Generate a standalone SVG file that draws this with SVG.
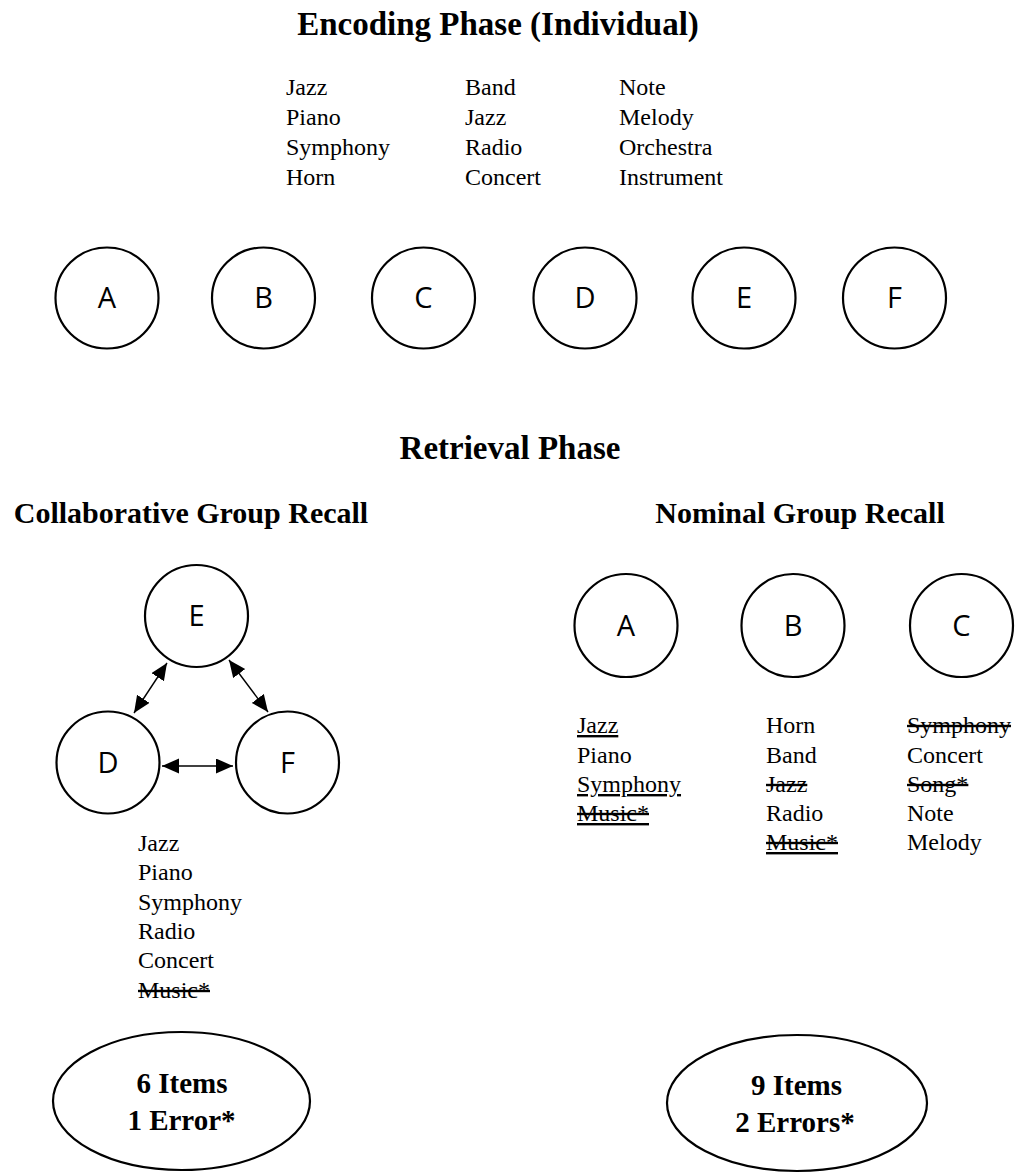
<svg xmlns="http://www.w3.org/2000/svg" width="1017" height="1173" viewBox="0 0 1017 1173">
<style>
.bg{fill:#ffffff}
.node{fill:#ffffff;stroke:#000000;stroke-width:2.2}
.lbl{font-family:"Open Sans","DejaVu Sans",sans-serif;font-size:29px;fill:#000;text-anchor:middle}
.h1{font-family:"Liberation Serif","Times New Roman",serif;font-weight:bold;font-size:33px;fill:#000;text-anchor:middle}
.h2{font-family:"Liberation Serif","Times New Roman",serif;font-weight:bold;font-size:30px;fill:#000;text-anchor:middle}
.w{font-family:"Liberation Serif","Times New Roman",serif;font-size:24px;fill:#000}
.tot{font-family:"Liberation Serif","Times New Roman",serif;font-weight:bold;font-size:29px;fill:#000;text-anchor:middle}
.u{text-decoration:underline}
.s{text-decoration:line-through}
.us{text-decoration:underline line-through}
.conn{stroke:#000;stroke-width:1.4;fill:none;marker-start:url(#ah);marker-end:url(#ah)}
</style>
<defs>
<marker id="ah" markerUnits="userSpaceOnUse" markerWidth="18" markerHeight="16" refX="17" refY="7.5" orient="auto-start-reverse">
<path d="M0,0 L17,7.5 L0,15 z" fill="#000"/>
</marker>
</defs>
<rect class="bg" x="0" y="0" width="1017" height="1173"/>

<g id="headings">
<text class="h1" x="498" y="35">Encoding Phase (Individual)</text>
<text class="h1" x="510" y="459">Retrieval Phase</text>
<text class="h2" x="191" y="523">Collaborative Group Recall</text>
<text class="h2" x="800" y="523">Nominal Group Recall</text>
</g>

<g id="encoding-lists">
<text class="w" x="286" y="95">Jazz</text>
<text class="w" x="286" y="125">Piano</text>
<text class="w" x="286" y="155">Symphony</text>
<text class="w" x="286" y="185">Horn</text>
<text class="w" x="465" y="95">Band</text>
<text class="w" x="465" y="125">Jazz</text>
<text class="w" x="465" y="155">Radio</text>
<text class="w" x="465" y="185">Concert</text>
<text class="w" x="619" y="95">Note</text>
<text class="w" x="619" y="125">Melody</text>
<text class="w" x="619" y="155">Orchestra</text>
<text class="w" x="619" y="185">Instrument</text>
</g>

<g id="enc-A"><ellipse class="node" cx="107" cy="298" rx="51.5" ry="50.5"/><text class="lbl" x="107" y="308">A</text></g>
<g id="enc-B"><ellipse class="node" cx="263.5" cy="298" rx="51.5" ry="50.5"/><text class="lbl" x="263.5" y="308">B</text></g>
<g id="enc-C"><ellipse class="node" cx="423.5" cy="298" rx="51.5" ry="50.5"/><text class="lbl" x="423.5" y="308">C</text></g>
<g id="enc-D"><ellipse class="node" cx="585" cy="298" rx="51.5" ry="50.5"/><text class="lbl" x="585" y="308">D</text></g>
<g id="enc-E"><ellipse class="node" cx="744" cy="298" rx="51.5" ry="50.5"/><text class="lbl" x="744" y="308">E</text></g>
<g id="enc-F"><ellipse class="node" cx="894.5" cy="298" rx="51.5" ry="50.5"/><text class="lbl" x="894.5" y="308">F</text></g>

<g id="col-E"><ellipse class="node" cx="196.5" cy="616" rx="51.5" ry="51"/><text class="lbl" x="196.5" y="626">E</text></g>
<g id="col-D"><ellipse class="node" cx="108" cy="762.5" rx="51.5" ry="51"/><text class="lbl" x="108" y="772.5">D</text></g>
<g id="col-F"><ellipse class="node" cx="287.5" cy="762.5" rx="51.5" ry="51"/><text class="lbl" x="287.5" y="772.5">F</text></g>

<g id="connectors">
<line class="conn" x1="167" y1="663" x2="134" y2="713"/>
<line class="conn" x1="229" y1="660" x2="268" y2="712"/>
<line class="conn" x1="162" y1="766" x2="233" y2="766"/>
</g>

<g id="col-list">
<text class="w" x="138" y="851">Jazz</text>
<text class="w" x="138" y="880">Piano</text>
<text class="w" x="138" y="910">Symphony</text>
<text class="w" x="138" y="939">Radio</text>
<text class="w" x="138" y="968">Concert</text>
<text class="w s" x="138" y="998">Music*</text>
</g>

<g id="nom-A"><ellipse class="node" cx="626" cy="625.5" rx="51.5" ry="51.5"/><text class="lbl" x="626" y="635.5">A</text></g>
<g id="nom-B"><ellipse class="node" cx="793" cy="625.5" rx="51.5" ry="51.5"/><text class="lbl" x="793" y="635.5">B</text></g>
<g id="nom-C"><ellipse class="node" cx="961.5" cy="625.5" rx="51.5" ry="51.5"/><text class="lbl" x="961.5" y="635.5">C</text></g>

<g id="nom-lists">
<text class="w u" x="577" y="733">Jazz</text>
<text class="w" x="577" y="763">Piano</text>
<text class="w u" x="577" y="792">Symphony</text>
<text class="w us" x="577" y="821">Music*</text>
<text class="w" x="766" y="733">Horn</text>
<text class="w" x="766" y="763">Band</text>
<text class="w s" x="766" y="792">Jazz</text>
<text class="w" x="766" y="821">Radio</text>
<text class="w us" x="766" y="850">Music*</text>
<text class="w s" x="907" y="733">Symphony</text>
<text class="w" x="907" y="763">Concert</text>
<text class="w s" x="907" y="792">Song*</text>
<text class="w" x="907" y="821">Note</text>
<text class="w" x="907" y="850">Melody</text>
</g>

<g id="col-total"><ellipse class="node" cx="181.5" cy="1101" rx="128.5" ry="69"/><text class="tot" x="182" y="1093">6 Items</text><text class="tot" x="181.5" y="1130">1 Error*</text></g>
<g id="nom-total"><ellipse class="node" cx="797" cy="1103" rx="130" ry="68"/><text class="tot" x="796.5" y="1095">9 Items</text><text class="tot" x="795" y="1132">2 Errors*</text></g>
</svg>
